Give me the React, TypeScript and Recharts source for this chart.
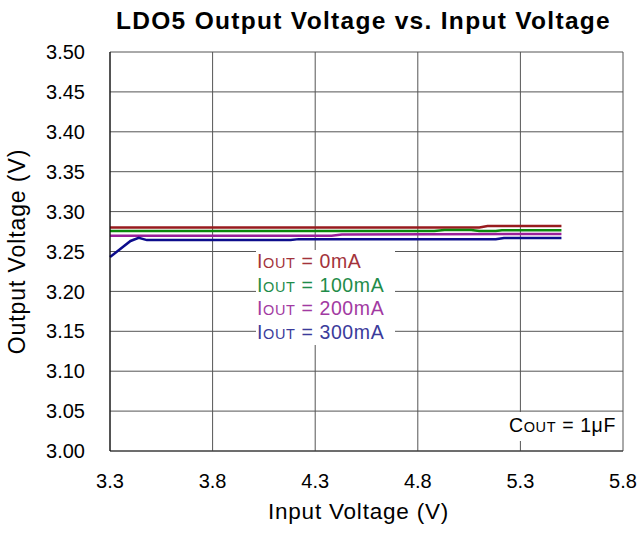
import { LineChart, Line, XAxis, YAxis, CartesianGrid, Legend } from 'recharts';

// x axis: input voltage (V)
const xTicks = [3.3, 3.8, 4.3, 4.8, 5.3, 5.8];
// y axis: output voltage (V)
const yTicks = [3.0, 3.05, 3.1, 3.15, 3.2, 3.25, 3.3, 3.35, 3.4, 3.45, 3.5];

// load currents shown in the legend
const loads = ['0mA', '100mA', '200mA', '300mA'];

// IOUT = 0mA
const vin0 = [3.3, 5.1, 5.14, 5.5];
const vout0 = [3.28, 3.28, 3.282, 3.282];
// IOUT = 100mA
const vin1 = [3.3, 4.88, 4.93, 5.06, 5.1, 5.18, 5.21, 5.5];
const vout1 = [3.2757, 3.2757, 3.2769, 3.2769, 3.2757, 3.2757, 3.2767, 3.2767];
// IOUT = 200mA
const vin2 = [3.3, 4.38, 4.43, 5.5];
const vout2 = [3.2698, 3.2698, 3.2714, 3.272];
// IOUT = 300mA
const vin3 = [3.3, 3.35, 3.4, 3.44, 3.48, 4.18, 4.22, 5.18, 5.22, 5.5];
const vout3 = [3.243, 3.253, 3.2632, 3.2672, 3.2643, 3.2643, 3.2655, 3.2655, 3.267, 3.267];

const lineColors = ['#981b1e', '#0b870b', '#9a1f9a', '#0c0c8c'];
const textColors = ['#a3333b', '#1f8c4a', '#a23aa2', '#3b3b9b'];

const series = [
  { x: vin0, y: vout0 },
  { x: vin1, y: vout1 },
  { x: vin2, y: vout2 },
  { x: vin3, y: vout3 },
];

// merge everything into one table keyed on input voltage
const buildRows = () => {
  const xs = Array.from(new Set(series.flatMap((s) => s.x))).sort((a, b) => a - b);
  return xs.map((x) => {
    const row: Record<string, number | null> = { x };
    series.forEach((s, i) => {
      const idx = s.x.indexOf(x);
      row[`s${i}`] = idx >= 0 ? s.y[idx] : null;
    });
    return row;
  });
};

const rows = buildRows();

const font = '"Liberation Sans", Arial, sans-serif';

const XTitle = ({ viewBox }: any) => {
  const cx = viewBox.x + viewBox.width / 2 - 8;
  const by = viewBox.y + viewBox.height - 15;
  return (
    <text x={cx} y={by} textAnchor="middle" fontSize={22.5} fill="#000" style={{ letterSpacing: 0.8 }}>
      Input Voltage (V)
    </text>
  );
};

const YTitle = ({ viewBox }: any) => {
  const cx = 17;
  const cy = viewBox.y + viewBox.height / 2;
  return (
    <text
      x={cx}
      y={cy}
      dy="0.355em"
      transform={`rotate(-90 ${cx} ${cy})`}
      textAnchor="middle"
      fontSize={23}
      fill="#000"
      style={{ letterSpacing: 0.9 }}
    >
      Output Voltage (V)
    </text>
  );
};

const small = { fontSize: 14.5, lineHeight: '10px' };

const renderLegend = ({ payload }: any) => (
  <div
    style={{
      background: '#fff',
      paddingLeft: 1,
      fontSize: 19.5,
      lineHeight: '23.7px',
      letterSpacing: 0.6,
      fontFamily: font,
    }}
  >
    {(payload || []).map((p: any, i: number) => (
      <div key={i} style={{ color: textColors[i], whiteSpace: 'nowrap', height: 23.7 }}>
        I<span style={small}>OUT</span> = {p.value}
      </div>
    ))}
  </div>
);

export default function App() {
  return (
    <div
      style={{
        position: 'absolute',
        left: 0,
        top: 0,
        width: 638,
        height: 534,
        background: '#fff',
        fontFamily: font,
        overflow: 'hidden',
      }}
    >
      <LineChart width={638} height={534} data={rows} margin={{ top: 52, right: 15, bottom: 0, left: 0 }}>
        <CartesianGrid stroke="#555" strokeWidth={1} />
        <XAxis
          type="number"
          dataKey="x"
          domain={[3.3, 5.8]}
          ticks={xTicks}
          tickFormatter={(v: number) => v.toFixed(1)}
          height={83}
          tickLine={false}
          tickSize={0}
          tickMargin={23}
          axisLine={{ stroke: '#333' }}
          tick={{ fill: '#000', fontSize: 20 }}
          label={XTitle}
        />
        <YAxis
          type="number"
          domain={[3.0, 3.5]}
          ticks={yTicks}
          tickFormatter={(v: number) => v.toFixed(2)}
          width={110}
          tickLine={false}
          tickSize={0}
          tickMargin={25}
          axisLine={{ stroke: '#000' }}
          tick={{ fill: '#000', fontSize: 20 }}
          label={YTitle}
        />
        {loads.map((name, i) => (
          <Line
            key={name}
            type="linear"
            dataKey={`s${i}`}
            name={name}
            stroke={lineColors[i]}
            strokeWidth={2.5}
            dot={false}
            connectNulls
            isAnimationActive={false}
          />
        ))}
        <Legend
          layout="vertical"
          verticalAlign="middle"
          align="center"
          content={renderLegend}
          wrapperStyle={{ left: 256, top: 250, width: 139, height: 95 }}
        />
      </LineChart>
      <div
        style={{
          position: 'absolute',
          left: 90,
          top: 9,
          width: 547,
          textAlign: 'center',
          fontSize: 24.5,
          lineHeight: '24.5px',
          fontWeight: 'bold',
          letterSpacing: 1.3,
          whiteSpace: 'nowrap',
        }}
      >
        LDO5 Output Voltage vs. Input Voltage
      </div>
      <div
        style={{
          position: 'absolute',
          left: 506,
          top: 412,
          width: 111,
          height: 29,
          paddingLeft: 3,
          background: '#fff',
          fontSize: 19.5,
          lineHeight: '27px',
          letterSpacing: 0.6,
          whiteSpace: 'nowrap',
        }}
      >
        C<span style={small}>OUT</span> = 1μF
      </div>
    </div>
  );
}
